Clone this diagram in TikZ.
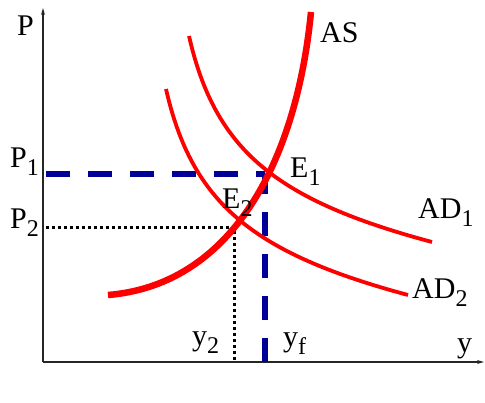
\documentclass[tikz,border=0pt]{standalone}
\usepackage{fontspec}
\setmainfont{Liberation Serif}
\newfontfamily\lblfont{Liberation Serif}
\usetikzlibrary{arrows.meta,calc,positioning}

\definecolor{navyline}{RGB}{0,0,153}
\newcommand{\sub}[2]{#1\raisebox{-0.28em}{\fontsize{24}{24}\selectfont #2}}

\tikzset{
  axis/.style={line width=1.4pt,draw=black!85,-{Stealth[length=7pt,width=4pt]}},
  asline/.style={draw=red,line width=6.5pt},
  adline/.style={draw=red,line width=3.8pt},
  blueline/.style={draw=navyline,line width=6pt,dash pattern=on 24pt off 18pt},
  dotline/.style={draw=black,line width=3pt,dash pattern=on 3pt off 3pt},
  lbl/.style={anchor=base west,inner sep=0pt,font=\lblfont\fontsize{30}{32}\selectfont}
}

\begin{document}
\begin{tikzpicture}[x=1pt,y=-1pt]
      \useasboundingbox (0,0) rectangle (485,402);
      % axes
      \coordinate (O) at (43,362);
      \coordinate (ytop) at (43,8);
      \coordinate (xend) at (484,362);
      \draw[axis] (O) -- (ytop);
      \draw[axis] (O) -- (xend);
      % corners of the guide lines
      \coordinate (c1) at (265,174);
      \coordinate (c2) at (234,227);
      % blue dashed: P1 and yf
      \coordinate (p1s) at (46,174);
      \coordinate (yfs) at (265,362);
      \draw[blueline] (p1s) -- (c1);
      \draw[blueline] (yfs) -- (c1);
      % dotted: P2 and y2
      \coordinate (p2s) at (46,227);
      \coordinate (y2s) at (234,362);
      \draw[dotline] (p2s) -- (c2) -- (y2s);
      % demand curves
      \coordinate (ad1a) at (189,36);
      \coordinate (ad1b) at (432,242);
      \coordinate (ad2a) at (166,89);
      \coordinate (ad2b) at (408,295);
      \draw[adline] (ad1a) .. controls (215,150) and (275,200) .. (ad1b);
      \draw[adline] (ad2a) .. controls (192,203) and (252,253) .. (ad2b);
      % supply curve
      \coordinate (asa) at (108,295);
      \coordinate (asb) at (311,12);
      \draw[asline] (asa) .. controls (230,285) and (296,165) .. (asb);
      % labels
      \node[lbl] (lP) at (17,35) {P};
      \node[lbl] (lP1) at (10,167) {\sub{P}{1}};
      \node[lbl] (lP2) at (10,228) {\sub{P}{2}};
      \node[lbl] (lE1) at (290,177) {\sub{E}{1}};
      \node[lbl] (lE2) at (222,208) {\sub{E}{2}};
      \node[lbl] (lAS) at (320,42) {AS};
      \node[lbl] (lAD1) at (418,218) {\sub{AD}{1}};
      \node[lbl] (lAD2) at (412,298) {\sub{AD}{2}};
      \node[lbl] (ly2) at (192,345) {\sub{y}{2}};
      \node[lbl] (lyf) at (283,346) {\sub{y}{f}};
      \node[lbl] (ly) at (457,352) {y};
\end{tikzpicture}
\end{document}
